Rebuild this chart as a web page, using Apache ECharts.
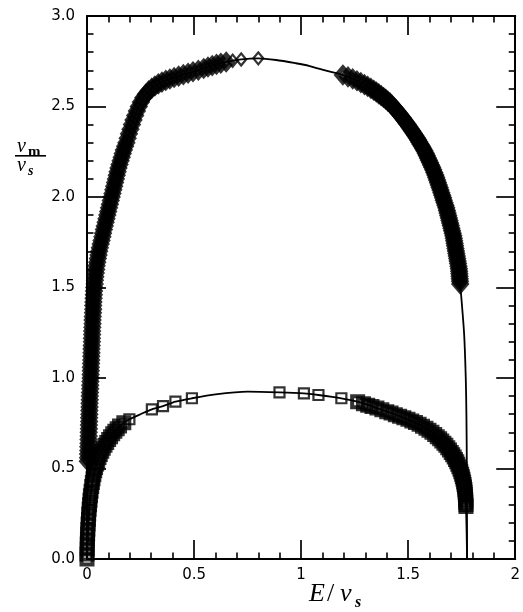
<!DOCTYPE html>
<html>
<head>
<meta charset="utf-8">
<script src="https://cdn.jsdelivr.net/npm/echarts@6/dist/echarts.min.js"></script>
<style>
html,body{margin:0;padding:0;background:#fff;}
#chart{width:523px;height:612px;}
</style>
</head>
<body>
<div id="chart"></div>
<script>
// ---- data (E/nu_s , nu_m/nu_s) ----
const xTickLabels = ['0', '0.5', '1', '1.5', '2'];
const yTickLabels = ['0.0', '0.5', '1.0', '1.5', '2.0', '2.5', '3.0'];

// solid curve through the upper (diamond) branch
const upperCurve = [
  [0,0],[0.004,0.54],[0.008,0.70],[0.012,0.85],[0.017,1.00],[0.023,1.20],[0.028,1.35],[0.034,1.50],
  [0.045,1.62],[0.066,1.75],[0.085,1.85],[0.115,2.00],[0.135,2.10],[0.157,2.20],[0.178,2.28],
  [0.196,2.35],[0.217,2.425],[0.242,2.50],[0.263,2.548],[0.288,2.586],[0.317,2.613],[0.35,2.635],
  [0.387,2.652],[0.428,2.668],[0.472,2.684],[0.52,2.70],[0.585,2.726],[0.65,2.746],[0.72,2.76],
  [0.80,2.766],[0.883,2.757],[0.975,2.739],[1.036,2.725],[1.126,2.695],[1.195,2.674],[1.296,2.621],
  [1.395,2.54],[1.49,2.412],[1.57,2.268],[1.639,2.08],[1.69,1.884],[1.719,1.73],[1.737,1.604],
  [1.743,1.52],[1.761,1.25],[1.769,1.0],[1.772,0.8],[1.774,0.5],[1.775,0]
];

// solid curve through the lower (square) branch
const lowerCurve = [
  [0,0],[0.003,0.1],[0.007,0.2],[0.012,0.30],[0.022,0.40],[0.040,0.506],[0.062,0.578],[0.092,0.644],
  [0.13,0.706],[0.172,0.753],[0.198,0.772],[0.25,0.80],[0.303,0.827],[0.355,0.845],[0.413,0.869],
  [0.49,0.888],[0.6,0.91],[0.75,0.925],[0.899,0.921],[1.013,0.915],[1.081,0.906],[1.188,0.888],
  [1.264,0.869],[1.354,0.834],[1.48,0.78],[1.583,0.722],[1.647,0.664],[1.701,0.589],[1.737,0.51],
  [1.759,0.426],[1.767,0.356],[1.77,0.29],[1.773,0.15],[1.775,0]
];

// diamond markers (upper branch)
const upperPoints = [
  [0.004,0.54],[0.005,0.56],[0.005,0.58],[0.006,0.60],[0.006,0.62],[0.007,0.64],[0.007,0.66],[0.008,0.68],
  [0.008,0.70],[0.009,0.72],[0.009,0.74],[0.010,0.76],[0.010,0.78],[0.011,0.80],[0.011,0.82],[0.012,0.84],
  [0.012,0.86],[0.013,0.88],[0.013,0.90],[0.014,0.92],[0.015,0.94],[0.015,0.96],[0.016,0.98],[0.017,1.00],
  [0.017,1.02],[0.018,1.04],[0.018,1.06],[0.019,1.08],[0.020,1.10],[0.020,1.12],[0.021,1.14],[0.021,1.16],
  [0.022,1.18],[0.023,1.20],[0.023,1.22],[0.024,1.24],[0.024,1.26],[0.025,1.28],[0.026,1.30],[0.026,1.32],
  [0.027,1.34],[0.028,1.36],[0.029,1.38],[0.029,1.40],[0.030,1.42],[0.031,1.44],[0.032,1.46],[0.033,1.48],
  [0.034,1.50],[0.036,1.52],[0.037,1.54],[0.039,1.56],[0.041,1.58],[0.043,1.60],[0.045,1.62],[0.048,1.64],
  [0.051,1.66],[0.054,1.68],[0.057,1.70],[0.060,1.72],[0.064,1.74],[0.068,1.76],[0.072,1.78],[0.075,1.80],
  [0.079,1.82],[0.083,1.84],[0.087,1.86],[0.091,1.88],[0.095,1.90],[0.099,1.92],[0.103,1.94],[0.107,1.96],
  [0.111,1.98],[0.115,2.00],[0.119,2.02],[0.123,2.04],[0.127,2.06],[0.131,2.08],[0.135,2.10],[0.139,2.12],
  [0.143,2.14],[0.147,2.16],[0.152,2.18],[0.157,2.20],[0.162,2.22],[0.167,2.24],[0.172,2.26],[0.178,2.28],
  [0.184,2.30],[0.19,2.325],[0.196,2.35],[0.203,2.375],[0.21,2.40],[0.217,2.425],[0.225,2.45],[0.233,2.475],
  [0.242,2.50],[0.252,2.525],[0.263,2.548],[0.275,2.568],[0.288,2.586],[0.302,2.60],[0.317,2.613],
  [0.333,2.625],[0.35,2.635],[0.368,2.644],[0.387,2.652],[0.407,2.66],[0.428,2.668],[0.45,2.676],
  [0.472,2.684],[0.495,2.692],[0.52,2.70],[0.545,2.71],[0.565,2.718],[0.585,2.726],[0.605,2.733],
  [0.625,2.739],[0.65,2.746],[0.68,2.753],[0.72,2.76],[0.80,2.766],
  [1.195,2.674],[1.219,2.664],[1.241,2.653],[1.261,2.642],[1.279,2.632],[1.296,2.621],[1.311,2.611],
  [1.326,2.60],[1.339,2.59],[1.351,2.58],[1.363,2.57],[1.374,2.56],[1.385,2.55],[1.395,2.54],[1.405,2.53],
  [1.415,2.52],[1.424,2.508],[1.433,2.496],[1.442,2.484],[1.451,2.472],[1.459,2.46],[1.467,2.448],
  [1.475,2.436],[1.483,2.424],[1.49,2.412],[1.498,2.40],[1.505,2.388],[1.512,2.376],[1.519,2.364],
  [1.526,2.352],[1.533,2.34],[1.54,2.328],[1.546,2.316],[1.552,2.304],[1.558,2.292],[1.564,2.28],
  [1.57,2.268],[1.576,2.255],[1.582,2.242],[1.587,2.229],[1.592,2.216],[1.597,2.203],[1.602,2.19],
  [1.607,2.177],[1.612,2.164],[1.617,2.15],[1.622,2.136],[1.627,2.122],[1.631,2.108],[1.635,2.094],
  [1.639,2.08],[1.643,2.066],[1.647,2.052],[1.651,2.038],[1.655,2.024],[1.659,2.01],[1.663,1.996],
  [1.666,1.982],[1.67,1.968],[1.674,1.954],[1.678,1.94],[1.681,1.926],[1.684,1.912],[1.687,1.898],
  [1.69,1.884],[1.693,1.87],[1.696,1.856],[1.699,1.842],[1.702,1.828],[1.705,1.814],[1.708,1.80],
  [1.711,1.786],[1.713,1.772],[1.715,1.758],[1.717,1.744],[1.719,1.73],[1.721,1.716],[1.723,1.702],
  [1.725,1.688],[1.727,1.674],[1.729,1.66],[1.731,1.646],[1.733,1.632],[1.735,1.618],[1.737,1.604],
  [1.738,1.59],[1.739,1.576],[1.74,1.562],[1.741,1.548],[1.742,1.534],[1.743,1.52]
];

// square markers (lower branch)
const lowerPoints = [
  [0.000,0.00],[0.000,0.028],[0.001,0.055],[0.001,0.083],[0.002,0.11],[0.003,0.138],[0.004,0.165],
  [0.005,0.193],[0.007,0.22],[0.008,0.248],[0.010,0.275],[0.012,0.30],[0.014,0.325],[0.016,0.35],
  [0.019,0.375],[0.022,0.40],[0.025,0.422],[0.028,0.444],[0.032,0.466],[0.036,0.487],[0.040,0.506],
  [0.045,0.525],[0.050,0.543],[0.056,0.561],[0.062,0.578],[0.069,0.595],[0.076,0.612],[0.084,0.628],
  [0.092,0.644],[0.101,0.66],[0.110,0.676],[0.12,0.692],[0.13,0.706],[0.141,0.72],[0.152,0.735],
  [0.172,0.753],[0.198,0.772],[0.303,0.827],[0.355,0.845],[0.413,0.869],[0.49,0.888],
  [0.899,0.921],[1.013,0.915],[1.081,0.906],[1.188,0.888],[1.264,0.869],[1.291,0.858],[1.311,0.85],
  [1.331,0.842],[1.354,0.834],[1.377,0.824],[1.40,0.814],[1.42,0.806],[1.44,0.797],[1.46,0.789],
  [1.48,0.78],[1.499,0.772],[1.517,0.763],[1.534,0.754],[1.551,0.744],[1.567,0.733],[1.583,0.722],
  [1.597,0.711],[1.611,0.70],[1.624,0.688],[1.636,0.676],[1.647,0.664],[1.657,0.652],[1.667,0.64],
  [1.676,0.628],[1.685,0.615],[1.693,0.602],[1.701,0.589],[1.708,0.576],[1.715,0.563],[1.721,0.55],
  [1.727,0.537],[1.732,0.524],[1.737,0.51],[1.742,0.496],[1.746,0.482],[1.75,0.468],[1.753,0.454],
  [1.756,0.44],[1.759,0.426],[1.761,0.412],[1.763,0.398],[1.765,0.384],[1.766,0.37],[1.767,0.356],
  [1.768,0.342],[1.769,0.328],[1.769,0.314],[1.77,0.30],[1.77,0.29]
];

// ---- chart ----
const chart = echarts.init(document.getElementById('chart'), null, {renderer: 'canvas'});
const ink = '#000';
const labelFont = 'DejaVu Sans, Liberation Sans, sans-serif';
const serif = 'Liberation Serif, Times New Roman, serif';

// Where printed markers crowd together their outlines merge into solid ink:
// give crowded markers a heavier outline (style only, positions untouched).
function markerItems(points, dense, sparse) {
  const sx = 218.5, sy = 181; // approx px per unit, only used to judge crowding
  return points.map(function (p, i) {
    let d = Infinity;
    [i - 1, i + 1].forEach(function (j) {
      if (j >= 0 && j < points.length) {
        const dx = (points[j][0] - p[0]) * sx, dy = (points[j][1] - p[1]) * sy;
        d = Math.min(d, Math.sqrt(dx * dx + dy * dy));
      }
    });
    const s = d < 6.5 ? dense : sparse;
    return {value: p, symbolSize: s.size, itemStyle: {borderWidth: s.width}};
  });
}

function axisCommon(showLabels, labels, isX) {
  return {
    type: 'value',
    min: 0,
    max: isX ? 2 : 3,
    interval: 0.5,
    axisLine: {show: true, onZero: false, lineStyle: {color: ink, width: 2}},
    axisTick: {show: true, inside: true, length: 19, lineStyle: {color: ink, width: 1.7}},
    minorTick: {show: true, splitNumber: 5, length: 6.5, lineStyle: {color: ink, width: 1.6}},
    splitLine: {show: false},
    minorSplitLine: {show: false},
    axisLabel: {
      show: showLabels,
      color: '#000',
      fontFamily: labelFont,
      fontSize: 15,
      margin: isX ? 9 : 12,
      formatter: function (v) { return labels[Math.round(v / 0.5)]; }
    }
  };
}

const option = {
  animation: false,
  backgroundColor: '#fff',
  grid: {left: 87, top: 16, width: 437, height: 543, containLabel: false},
  xAxis: [
    Object.assign(axisCommon(true, xTickLabels, true), {position: 'bottom'}),
    Object.assign(axisCommon(false, xTickLabels, true), {position: 'top'})
  ],
  yAxis: [
    Object.assign(axisCommon(true, yTickLabels, false), {position: 'left'}),
    Object.assign(axisCommon(false, yTickLabels, false), {position: 'right'})
  ],
  series: [
    {type: 'line', data: upperCurve, symbol: 'none', smooth: 0.25, lineStyle: {color: ink, width: 1.8}, z: 2},
    {type: 'line', data: lowerCurve, symbol: 'none', smooth: 0.25, lineStyle: {color: ink, width: 1.8}, z: 2},
    {type: 'scatter', symbol: 'diamond',
     data: markerItems(upperPoints, {size: [12, 14], width: 5}, {size: [10, 12], width: 2.2}),
     itemStyle: {color: 'rgba(255,255,255,0)', borderColor: ink}, z: 3},
    {type: 'scatter', symbol: 'rect',
     data: markerItems(lowerPoints, {size: 11, width: 4}, {size: 10, width: 2.2}),
     itemStyle: {color: 'rgba(255,255,255,0)', borderColor: ink}, z: 3}
  ],
  graphic: [
    // y-axis title: nu_m / nu_s
    {type: 'text', left: 17, top: 137, style: {text: 'ν', font: 'italic 20px ' + serif, fill: ink}},
    {type: 'text', left: 28, top: 145, style: {text: 'm', font: 'bold 15px ' + serif, fill: ink}},
    {type: 'rect', shape: {x: 15, y: 155, width: 31, height: 1.6}, style: {fill: ink}},
    {type: 'text', left: 17, top: 156, style: {text: 'ν', font: 'italic 20px ' + serif, fill: ink}},
    {type: 'text', left: 28, top: 164, style: {text: 's', font: 'italic bold 14px ' + serif, fill: ink}},
    // x-axis title: E / nu_s
    {type: 'text', left: 309, top: 581, style: {text: 'E', font: 'italic 26px ' + serif, fill: ink}},
    {type: 'text', left: 327, top: 581, style: {text: '/', font: '26px ' + serif, fill: ink}},
    {type: 'text', left: 340, top: 581, style: {text: 'ν', font: 'italic 26px ' + serif, fill: ink}},
    {type: 'text', left: 355, top: 595, style: {text: 's', font: 'italic bold 16px ' + serif, fill: ink}}
  ]
};
chart.setOption(option);
</script>
</body>
</html>
